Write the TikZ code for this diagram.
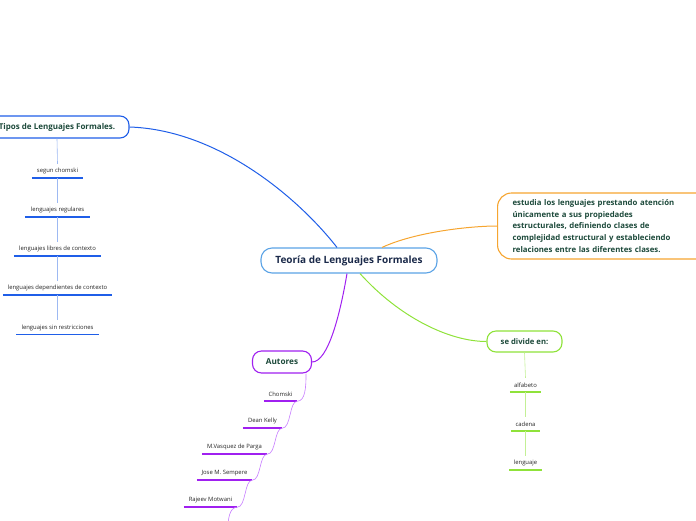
\documentclass[tikz,border=0pt]{standalone}
\usepackage{fontspec}
\setmainfont{Open Sans}
\definecolor{cblue}{HTML}{1F5EE8}
\definecolor{cbluel}{HTML}{9DB9F2}
\definecolor{ccen}{HTML}{5BA3E6}
\definecolor{corange}{HTML}{F6A530}
\definecolor{cgreen}{HTML}{8FE23A}
\definecolor{cgreenl}{HTML}{C3F095}
\definecolor{cpurple}{HTML}{A020F0}
\definecolor{cpurplel}{HTML}{C77DFF}
\definecolor{tgreen}{HTML}{1D4A3B}
\definecolor{tnavy}{HTML}{1B2A4A}
\tikzset{
  topic/.style={draw, fill=white, rounded corners=9pt, line width=1.1pt, font=\bfseries\fontsize{8}{9}\selectfont, text=tgreen, inner sep=0pt},
  leaf/.style={font=\fontsize{5.9}{6.5}\selectfont, text=black!85, inner sep=0pt, minimum height=14pt},
  ul/.style={line width=1.5pt},
  thin/.style={line width=0.6pt},
  conn/.style={line width=1pt}
}
\begin{document}
\begin{tikzpicture}[x=1pt,y=-1pt]
\useasboundingbox (0,0) rectangle (696,520);
\clip (0,0) rectangle (696,520);
% central
\node[draw=ccen, fill=white, rounded corners=11pt, line width=1.1pt, minimum width=176pt, minimum height=25pt, font=\bfseries\fontsize{10}{11}\selectfont, text=tnavy, inner sep=0pt] (cen) at (349,260.5) {Teoría de Lenguajes Formales};
% topics
\node[topic, draw=cblue, minimum width=144pt, minimum height=22pt] (tipos) at (57,127) {Tipos de Lenguajes Formales.};
\node[topic, draw=corange, anchor=west, minimum height=66pt, text width=190pt, align=left, inner xsep=15pt, rounded corners=14pt, font=\bfseries\fontsize{7.8}{11.7}\selectfont] (est) at (497,226) {estudia los lenguajes prestando atención\\únicamente a sus propiedades\\estructurales, definiendo clases de\\complejidad estructural y estableciendo\\relaciones entre las diferentes clases.};
\node[topic, draw=cgreen, minimum width=75pt, minimum height=21pt, font=\bfseries\fontsize{7.7}{8.5}\selectfont] (div) at (524.5,341.5) {se divide en:};
\node[topic, draw=cpurple, minimum width=59pt, minimum height=22pt, font=\bfseries\fontsize{8.2}{9}\selectfont] (aut) at (282,362) {Autores};
% main connectors
\draw[conn, cblue] (tipos.east) .. controls (220,130) and (300,200) .. ([xshift=-12pt]cen.north);
\draw[conn, corange] ([xshift=33pt]cen.north) .. controls (415,232) and (470,226) .. (est.west);
\draw[conn, cgreen] ([xshift=11pt]cen.south) .. controls (400,318) and (450,341.5) .. (div.west);
\draw[conn, cpurple] ([xshift=-2pt]cen.south) .. controls (340,315) and (328,362) .. (aut.east);
% Tipos children
\node[leaf, minimum width=51pt] (t1) at (57.5,171) {segun chomski};
\node[leaf, minimum width=65pt] (t2) at (57.5,210) {lenguajes regulares};
\node[leaf, minimum width=87pt] (t3) at (57.5,249) {lenguajes libres de contexto};
\node[leaf, minimum width=109pt] (t4) at (57.5,288) {lenguajes dependientes de contexto};
\node[leaf, minimum width=82pt] (t5) at (57.5,327.5) {lenguajes sin restricciones};
\foreach \n in {t1,t2,t3,t4,t5} {\draw[ul, cblue] (\n.south west) -- (\n.south east);}
\draw[thin, cbluel] (tipos.south) -- (t1.north);
\draw[thin, cbluel] (t1.south) -- (t2.north);
\draw[thin, cbluel] (t2.south) -- (t3.north);
\draw[thin, cbluel] (t3.south) -- (t4.north);
\draw[thin, cbluel] (t4.south) -- (t5.north);
% se divide children
\node[leaf, minimum width=31pt] (d1) at (525.5,385) {alfabeto};
\node[leaf, minimum width=29pt] (d2) at (525.5,424) {cadena};
\node[leaf, minimum width=32pt] (d3) at (525.5,463) {lenguaje};
\foreach \n in {d1,d2,d3} {\draw[ul, cgreen] (\n.south west) -- (\n.south east);}
\draw[thin, cgreenl] (div.south) -- (d1.north);
\draw[thin, cgreenl] (d1.south) -- (d2.north);
\draw[thin, cgreenl] (d2.south) -- (d3.north);
% Autores children
\node[leaf, minimum width=33pt] (a1) at (280.5,394) {Chomski};
\node[leaf, minimum width=39pt] (a2) at (262.5,421) {Dean Kelly};
\node[leaf, minimum width=65pt] (a3) at (234.5,447) {M.Vasquez de Parga};
\node[leaf, minimum width=55pt] (a4) at (224.5,473) {Jose M. Sempere};
\node[leaf, minimum width=53pt] (a5) at (210.5,500) {Rajeev Motwani};
\coordinate (aend) at (228,528);
\foreach \n in {a1,a2,a3,a4,a5} {\draw[ul, cpurple] (\n.south west) -- (\n.south east);}
\draw[thin, cpurplel] ([xshift=-6pt]aut.south east) .. controls +(0,14) and +(8,0) .. (a1.south east);
\draw[thin, cpurplel] (a1.south east) .. controls +(-8,0) and +(9,0) .. (a2.south east);
\draw[thin, cpurplel] (a2.south east) .. controls +(-8,0) and +(9,0) .. (a3.south east);
\draw[thin, cpurplel] (a3.south east) .. controls +(-8,0) and +(9,0) .. (a4.south east);
\draw[thin, cpurplel] (a4.south east) .. controls +(-8,0) and +(9,0) .. (a5.south east);
\draw[thin, cpurplel] (a5.south east) .. controls +(-8,0) and +(0,-8) .. (aend);
\end{tikzpicture}
\end{document}
